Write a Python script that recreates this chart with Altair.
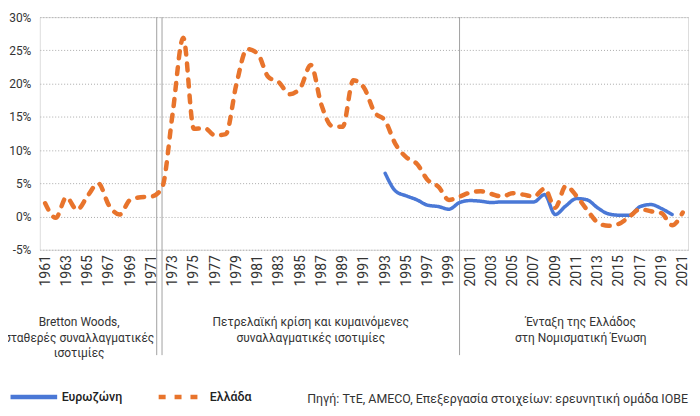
import altair as alt
import pandas as pd

years_greece = list(range(1961, 2022))
greece = [2.0, -0.2, 2.9, 1.0, 3.1, 5.0, 1.7, 0.3, 2.5, 2.9, 3.0, 4.3,
          15.5, 26.9, 13.2, 13.3, 12.2, 12.4, 19.9, 25.2, 24.5, 21.0,
          20.2, 18.4, 19.3, 22.8, 16.8, 13.6, 13.5, 20.5, 19.4, 15.7,
          14.4, 10.8, 8.9, 7.9, 5.5, 4.5, 2.5, 3.0, 3.6, 3.8,
          3.4, 3.0, 3.5, 3.3, 3.0, 4.2, 1.3, 4.6, 3.1, 1.0,
          -0.9, -1.4, -1.1, 0.0, 1.1, 0.8, 0.5, -1.3, 0.6]
years_euro = list(range(1993, 2021))
euro = [6.5, 3.8, 3.1, 2.5, 1.7, 1.5, 1.1, 2.1, 2.4, 2.3,
        2.1, 2.2, 2.2, 2.2, 2.2, 3.3, 0.3, 1.6, 2.7, 2.5,
        1.3, 0.4, 0.2, 0.2, 1.5, 1.8, 1.2, 0.3]
series_names = ["Ευρωζώνη", "Ελλάδα"]
tick_years = list(range(1961, 2022, 2))
y_ticks = [-5, 0, 5, 10, 15, 20, 25, 30]
divider_years = [1971.5, 1972, 2000]
period_labels = ["Bretton Woods,\nσταθερές συναλλαγματικές\nισοτιμίες",
                 "Πετρελαϊκή κρίση και κυμαινόμενες\nσυναλλαγματικές ισοτιμίες",
                 "Ένταξη της Ελλάδος\nστη Νομισματική Ένωση"]
period_centers = [1964.2, 1986.0, 2011.4]
source_text = "Πηγή: ΤτΕ, AMECO, Επεξεργασία στοιχείων: ερευνητική ομάδα ΙΟΒΕ"

FONT = "Roboto"

df = pd.concat([
    pd.DataFrame({"year": years_euro, "value": euro, "series": series_names[0]}),
    pd.DataFrame({"year": years_greece, "value": greece, "series": series_names[1]}),
])
div_df = pd.DataFrame({"year": divider_years})
per_df = pd.DataFrame({"year": period_centers, "label": period_labels})
src_df = pd.DataFrame({"label": [source_text]})

xscale = alt.Scale(domain=[1960.5, 2021.5], nice=False, zero=False)
yscale = alt.Scale(domain=[-5, 30], nice=False)

x_axis = alt.Axis(values=tick_years, format="d", labelAngle=270, title=None,
                  grid=False, domain=False, ticks=False, labelPadding=5,
                  labelOverlap=False, labelBound=False,
                  labelFontSize=14, labelColor="#333333", labelFont=FONT)

legend_cfg = dict(title=None, orient="none", direction="horizontal",
                  legendX=-32, legendY=356, symbolType="stroke",
                  symbolSize=2200, symbolStrokeWidth=4.5,
                  labelFontSize=12.5, labelFont=FONT, labelColor="#222222",
                  labelFontWeight=500, labelOffset=2, columnPadding=26,
                  labelBaseline="middle")

lines = alt.Chart(df).mark_line(interpolate="monotone", strokeCap="round").encode(
    x=alt.X("year:Q", scale=xscale, axis=x_axis),
    y=alt.Y("value:Q", scale=yscale,
            axis=alt.Axis(values=y_ticks, labelExpr="datum.value + '%'", title=None,
                          grid=True, gridDash=[1, 2], gridColor="#aaaaaa",
                          domain=False, ticks=False, labelPadding=9,
                          labelFontSize=12, labelColor="#333333", labelFont=FONT)),
    color=alt.Color("series:N", scale=alt.Scale(domain=series_names, range=["#4a78d6", "#e8742c"]),
                    legend=alt.Legend(**legend_cfg)),
    strokeDash=alt.StrokeDash("series:N", scale=alt.Scale(domain=series_names, range=[[1, 0], [7, 9]]),
                              legend=alt.Legend(**legend_cfg)),
    strokeWidth=alt.condition(alt.datum.series == series_names[0], alt.value(3.5), alt.value(4.5)),
    order=alt.Order("series:N", sort="descending"),
)

dividers = alt.Chart(div_df).mark_rule(color="#a0a0a0", strokeWidth=1).encode(
    x=alt.X("year:Q", scale=xscale, axis=x_axis),
    y=alt.value(0),
    y2=alt.value(340),
)

periods = alt.Chart(per_df).mark_text(lineBreak="\n", fontSize=12, font=FONT,
                                      color="#333333", baseline="top", lineHeight=15.5,
                                      align="center").encode(
    x=alt.X("year:Q", scale=xscale, axis=x_axis),
    y=alt.value(302),
    text="label:N",
)

source = alt.Chart(src_df).mark_text(fontSize=12.5, font=FONT, color="#333333",
                                     align="right", baseline="middle").encode(
    x=alt.value(652),
    y=alt.value(384),
    text="label:N",
)

chart = alt.layer(dividers, lines, periods, source).properties(
    width=652, height=234,
    autosize=alt.AutoSizeParams(type="none"),
    padding={"left": 32, "top": 8, "right": 4, "bottom": 158},
).configure_view(stroke=None).configure(font=FONT).configure_axisX(labelOverlap=False)

chart.save("out.html", embed_options={"renderer": "svg", "actions": False})
